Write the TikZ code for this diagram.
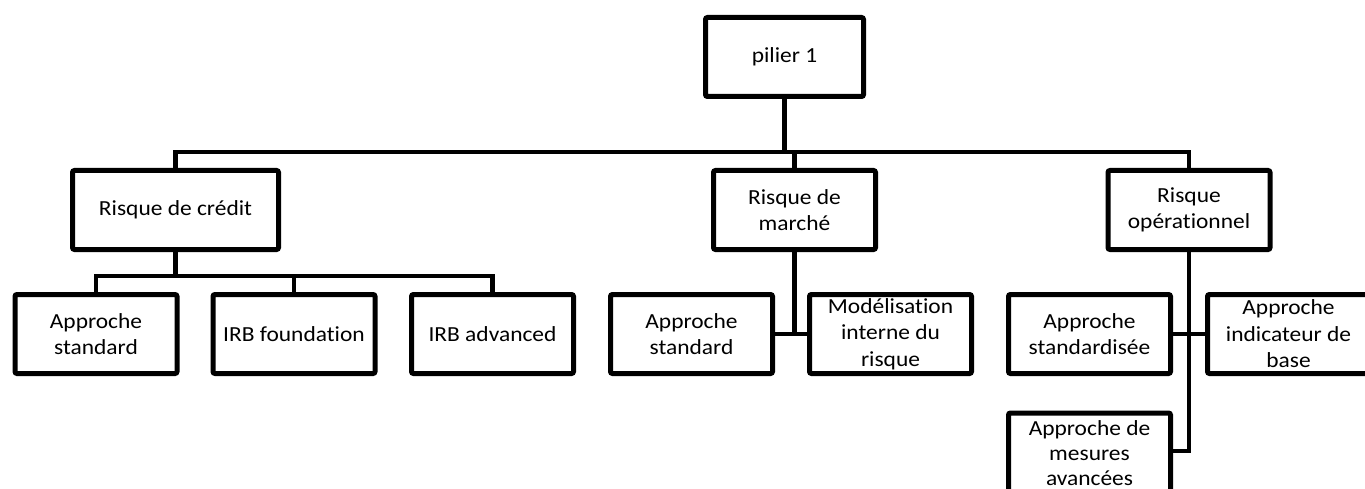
\documentclass[tikz,border=0pt]{standalone}
\usepackage{fontspec}
\setmainfont{Carlito}[FakeStretch=1.09,Ligatures=NoCommon]
\begin{document}
\begin{tikzpicture}[x=1pt,y=-1pt,
  box/.style={draw=black,line width=5pt,rounded corners=2pt,fill=white,
    minimum width=162pt,minimum height=79pt,inner sep=2pt,align=center,
    font=\fontsize{21.5}{26.5}\selectfont},
  conn/.style={draw=black,line width=4.6pt}]
\path[use as bounding box,clip] (0,0) rectangle (1365,489);
% nodes
\node[box,minimum width=158pt] (pilier) at (784.5,57) {pilier 1};
\node[box,minimum width=206pt] (credit) at (175.5,210) {Risque de crédit};
\node[box] (marche) at (794.5,210) {Risque de\\marché};
\node[box] (oper) at (1189,210) {Risque\\opérationnel};
\node[box] (cs) at (96,334) {Approche\\standard};
\node[box] (cf) at (294,334) {IRB foundation};
\node[box] (ca) at (492.5,334) {IRB advanced};
\node[box] (ms) at (691.5,334) {Approche\\standard};
\node[box] (mm) at (890.5,334) {Modélisation\\interne du\\risque};
\node[box] (os) at (1089.5,334) {Approche\\standardisée};
\node[box] (oi) at (1288.5,334) {Approche\\indicateur de\\base};
\node[box,anchor=north,font=\fontsize{21.5}{25}\selectfont,text height=70.5pt,text depth=20pt] (om) at (1089.5,410.5) {Approche de\\mesures\\avancées};
% connectors
\coordinate (b) at (783,152);
\coordinate (cb) at (175.5,276);
\coordinate (omc) at (1089.5,451);
\draw[conn] (pilier.south) -- (pilier.south |- b);
\draw[conn] (credit.north) |- (b) -| (oper.north);
\draw[conn] (marche.north) -- (marche.north |- b);
\draw[conn] (credit.south) -- (cb);
\draw[conn] (cs.north) |- (cb) -| (ca.north);
\draw[conn] (cf.north) -- (cf.north |- cb);
\draw[conn] (marche.south) -- (marche.south |- ms.east);
\draw[conn] (ms.east) -- (mm.west);
\draw[conn] (oper.south) |- (om.east |- omc);
\draw[conn] (os.east) -- (oi.west);
\end{tikzpicture}
\end{document}
